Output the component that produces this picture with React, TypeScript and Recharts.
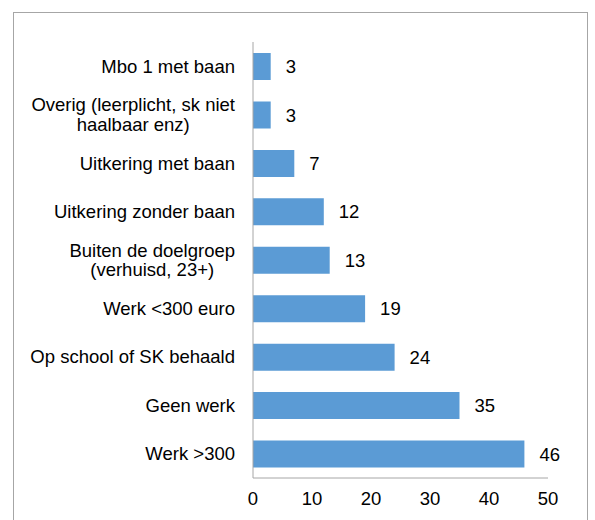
import React from 'react';
import { BarChart, Bar, XAxis, YAxis, LabelList } from 'recharts';

const categories = [
  'Mbo 1 met baan',
  'Overig (leerplicht, sk niet\nhaalbaar enz)',
  'Uitkering met baan',
  'Uitkering zonder baan',
  'Buiten de doelgroep\n(verhuisd, 23+)',
  'Werk <300 euro',
  'Op school of SK behaald',
  'Geen werk',
  'Werk >300',
];
const counts = [3, 3, 7, 12, 13, 19, 24, 35, 46];
const xTicks = [0, 10, 20, 30, 40, 50];

const data = categories.map((name, i) => ({ name, value: counts[i] }));

const FONT = 'Liberation Sans, Arial, sans-serif';
const FS = 18.5;

let ctx: CanvasRenderingContext2D | null = null;
function textWidth(s: string) {
  if (!ctx) {
    ctx = document.createElement('canvas').getContext('2d');
  }
  if (!ctx) return s.length * FS * 0.5;
  ctx.font = `${FS}px ${FONT}`;
  return ctx.measureText(s).width;
}

// wrapped labels: lines centred, block right-aligned against the axis
const CategoryTick = (props: any) => {
  const { x, y, payload } = props;
  const lines = String(payload.value).split('\n');
  const lh = 19.5;
  if (lines.length === 1) {
    return (
      <text x={x} y={y} dy="0.35em" textAnchor="end" fontSize={FS} fontFamily={FONT} fill="#000">
        {lines[0]}
      </text>
    );
  }
  const w = Math.max(...lines.map(textWidth));
  const cx = x - w / 2;
  const y0 = y - ((lines.length - 1) * lh) / 2;
  return (
    <text textAnchor="middle" fontSize={FS} fontFamily={FONT} fill="#000">
      {lines.map((l, i) => (
        <tspan key={i} x={cx} y={y0 + i * lh} dy="0.35em">
          {l}
        </tspan>
      ))}
    </text>
  );
};

export default function App() {
  return (
    <div style={{ position: 'absolute', left: 0, top: 0, width: 595, height: 520, overflow: 'hidden', background: '#fff' }}>
      {/* outer chart frame, bottom edge runs off the picture */}
      <div
        style={{
          position: 'absolute',
          left: 13,
          top: 12,
          width: 575,
          height: 540,
          border: '1px solid #a6a6a6',
          boxSizing: 'border-box',
        }}
      />
      <div style={{ position: 'absolute', left: 0, top: 0 }}>
        <BarChart
          width={595}
          height={520}
          data={data}
          layout="vertical"
          margin={{ top: 42, right: 47, bottom: 12, left: 0 }}
          barSize={27}
        >
          <XAxis
            type="number"
            domain={[0, 50]}
            ticks={xTicks}
            tickLine={false}
            axisLine={{ stroke: '#a6a6a6' }}
            tickMargin={8}
            tick={{ fill: '#000', fontSize: FS, fontFamily: FONT }}
            height={30}
          />
          <YAxis
            type="category"
            dataKey="name"
            width={253}
            tickLine={false}
            axisLine={{ stroke: '#a6a6a6' }}
            tickMargin={12}
            tick={<CategoryTick />}
            interval={0}
          />
          <Bar dataKey="value" fill="#5b9bd5" isAnimationActive={false}>
            <LabelList dataKey="value" position="right" offset={15} fill="#000" fontSize={FS} fontFamily={FONT} />
          </Bar>
        </BarChart>
      </div>
    </div>
  );
}
